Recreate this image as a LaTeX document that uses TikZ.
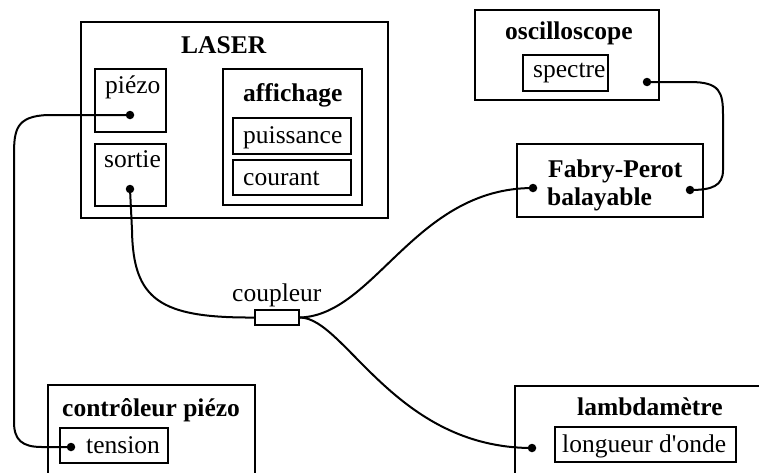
\documentclass[tikz,border=0pt]{standalone}
\usepackage{fontspec}
\setmainfont{Liberation Serif}
\begin{document}
\begin{tikzpicture}[x=1pt,y=-1pt,
  box/.style={draw, line width=2.2pt, rectangle, inner sep=0pt},
  lbl/.style={anchor=base west, inner sep=0pt, font=\fontsize{25.5}{30}\selectfont},
  blbl/.style={lbl, font=\fontsize{25.5}{30}\selectfont\bfseries},
  dotn/.style={circle, fill=black, inner sep=0pt, minimum size=8.5pt},
  wire/.style={line width=2pt}]
\clip (0,0) rectangle (759,472);
\fill[white] (0,0) rectangle (759,472);
% boxes
\node[box, minimum width=307pt, minimum height=196pt] (laser) at (234.5,120) {};
\node[box, minimum width=71pt, minimum height=63pt] (piezo) at (130.5,100.5) {};
\node[box, minimum width=71pt, minimum height=62pt] (sortie) at (130.5,175) {};
\node[box, minimum width=139pt, minimum height=136pt] (aff) at (292.5,137) {};
\node[box, minimum width=118pt, minimum height=36pt] (puis) at (292,136) {};
\node[box, minimum width=118pt, minimum height=35pt] (cour) at (292,177.5) {};
\node[box, minimum width=184pt, minimum height=90pt] (osc) at (567,55) {};
\node[box, minimum width=85pt, minimum height=36pt] (spec) at (565.5,73) {};
\node[box, minimum width=186pt, minimum height=73pt] (fp) at (610,180.5) {};
\node[box, minimum width=44pt, minimum height=15pt] (cp) at (277,317.5) {};
\node[box, minimum width=207pt, minimum height=115pt] (ctrl) at (151.5,442.5) {};
\node[box, minimum width=108pt, minimum height=35pt] (tens) at (114,445.5) {};
\node[box, minimum width=285pt, minimum height=114pt] (lam) at (657.5,443) {};
\node[box, minimum width=181pt, minimum height=35pt] (lo) at (645.5,444.5) {};
% texts
\node[blbl] (tlaser) at (181,53) {LASER};
\node[lbl] (tpiezo) at (105,93) {piézo};
\node[lbl] (tsortie) at (104,167) {sortie};
\node[blbl] (taff) at (243,101) {affichage};
\node[lbl] (tpuis) at (243,143) {puissance};
\node[lbl] (tcour) at (243,185) {courant};
\node[blbl] (tosc) at (505,39) {oscilloscope};
\node[lbl] (tspec) at (533,77) {spectre};
\node[blbl] (tfp1) at (548,177) {Fabry-Perot};
\node[blbl] (tfp2) at (547,205) {balayable};
\node[lbl] (tcp) at (232,301) {coupleur};
\node[blbl] (tctrl) at (62,416) {contrôleur piézo};
\node[lbl] (ttens) at (86,453) {tension};
\node[blbl] (tlam) at (577,415) {lambdamètre};
\node[lbl] (tlo) at (562,452) {longueur d\textquotesingle onde};
% dots
\node[dotn] (dpz) at (130,115) {};
\node[dotn] (dso) at (130,189) {};
\node[dotn] (dsp) at (647,82) {};
\node[dotn] (dfl) at (533,188) {};
\node[dotn] (dfr) at (690,190) {};
\node[dotn] (dte) at (71,447) {};
\node[dotn] (dla) at (532,448) {};
% wires
\draw[wire] (dpz.center) -- (48,115) .. controls (16,116) and (14,130) .. (14,155)
  -- (14,422) .. controls (14,440) and (22,447) .. (42,447) -- (dte.center);
\draw[wire] (dso.center) -- (132,230) .. controls (133,300) and (160,318) .. (cp.west);
\draw[wire] (cp.east) .. controls (375,315) and (415,188) .. (dfl.center);
\draw[wire] (cp.east) .. controls (345,318) and (395,448) .. (dla.center);
\draw[wire] (dsp.center) -- (690,82) .. controls (720,82) and (723,92) .. (723,115)
  -- (723,170) .. controls (723,186) and (712,190) .. (dfr.center);
\end{tikzpicture}
\end{document}
